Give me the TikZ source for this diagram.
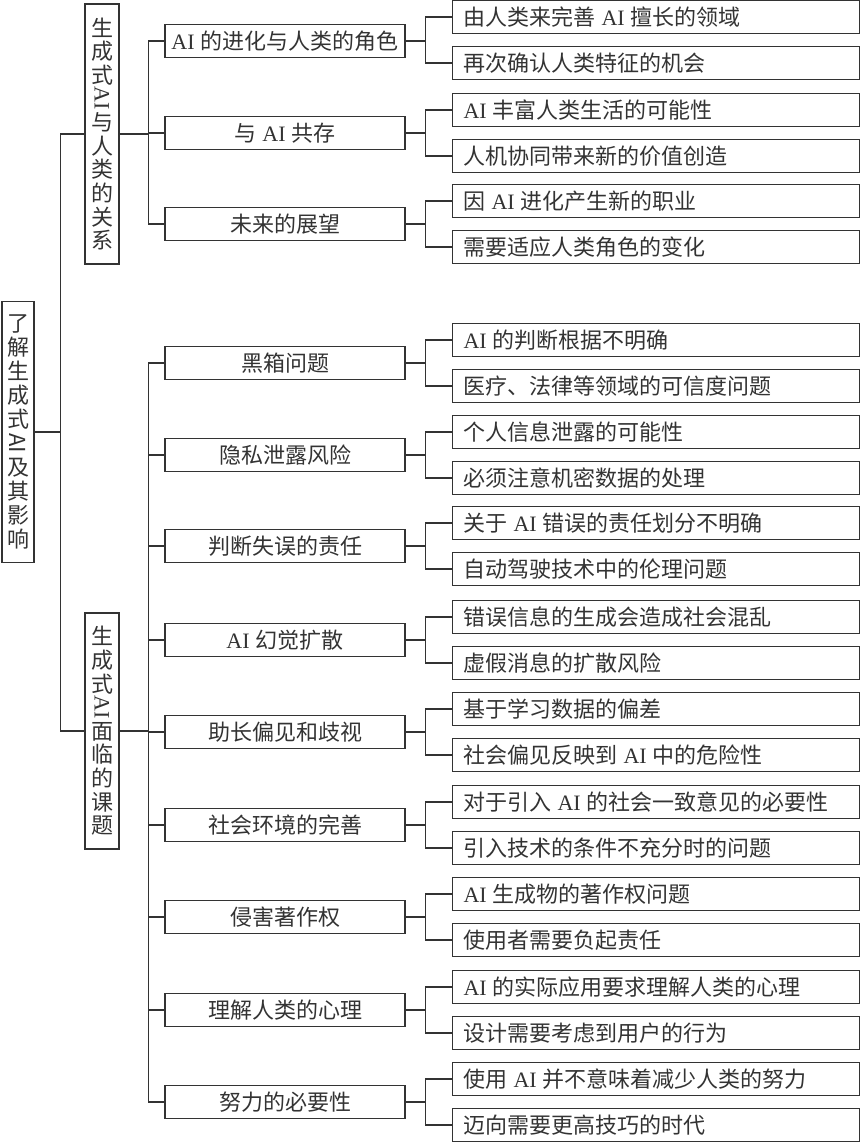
\documentclass[tikz,border=0pt]{standalone}
\usepackage{fontspec}
\usepackage{tikz}
\usepackage{xcolor}
\setmainfont{Noto Sans CJK SC}
\newfontfamily\latinserif{Liberation Serif}
\newcommand{\ai}{{\latinserif AI}}
\newcommand{\sep}{\hspace{6pt}}

\begin{document}
\begin{tikzpicture}[x=1pt, y=-1pt, line width=1.2pt, color=black!80,
			 raiz/.style={draw, minimum width=32pt, minimum height=261pt, inner sep=0pt, align=center, font=\fontsize{22}{24}\selectfont},
			 tema/.style={draw, minimum width=34pt, inner sep=0pt, align=center, font=\fontsize{22}{23.6}\selectfont},
			 lado/.style={rotate=-90, inner sep=0pt, font=\fontsize{22}{24}\selectfont},
			 sub/.style={draw, minimum width=240pt, minimum height=33pt, inner sep=0pt, font=\fontsize{22}{26}\selectfont},
			 hoja/.style={draw, anchor=west, text width=385pt, inner xsep=11pt, inner ysep=0pt, minimum height=33pt, align=left, font=\fontsize{22}{26}\selectfont}
  		]
	\useasboundingbox (0,0) rectangle (861,1143);

	%Nodo raiz y temas
		\node[raiz] (raiz) at (18,432) {了\\解\\生\\成\\式\\\mbox{}\\及\\其\\影\\响};
		\node[tema, minimum height=260pt] (rel) at (102,134) {生\\成\\式\\\mbox{}\\与\\人\\类\\的\\关\\系};
		\node[tema, minimum height=236pt] (ret) at (102,731) {生\\成\\式\\\mbox{}\\面\\临\\的\\课\\题};
	%El AI de lado
		\node[lado] (raizai) at (18,443) {AI};
		\node[lado] (relai) at (102,98) {\ai};
		\node[lado] (retai) at (102,707) {\ai};
	%Subtemas de la relacion
		\node[sub] (r1) at (285,41) {\ai\sep 的进化与人类的角色};
		\node[sub] (r2) at (285,133) {与\sep\ai\sep 共存};
		\node[sub] (r3) at (285,224) {未来的展望};
	%Subtemas de los retos
		\node[sub] (t1) at (285,363) {黑箱问题};
		\node[sub] (t2) at (285,455) {隐私泄露风险};
		\node[sub] (t3) at (285,546) {判断失误的责任};
		\node[sub] (t4) at (285,640) {\ai\sep 幻觉扩散};
		\node[sub] (t5) at (285,732) {助长偏见和歧视};
		\node[sub] (t6) at (285,825) {社会环境的完善};
		\node[sub] (t7) at (285,917) {侵害著作权};
		\node[sub] (t8) at (285,1010) {理解人类的心理};
		\node[sub] (t9) at (285,1102) {努力的必要性};
	%Hojas de la relacion
		\node[hoja] (r1a) at (452,17) {由人类来完善\sep\ai\sep 擅长的领域};
		\node[hoja] (r1b) at (452,63) {再次确认人类特征的机会};
		\node[hoja] (r2a) at (452,110) {\ai\sep 丰富人类生活的可能性};
		\node[hoja] (r2b) at (452,156) {人机协同带来新的价值创造};
		\node[hoja] (r3a) at (452,201) {因\sep\ai\sep 进化产生新的职业};
		\node[hoja] (r3b) at (452,247) {需要适应人类角色的变化};
	%Hojas de los retos
		\node[hoja] (t1a) at (452,340) {\ai\sep 的判断根据不明确};
		\node[hoja] (t1b) at (452,386) {医疗、法律等领域的可信度问题};
		\node[hoja] (t2a) at (452,432) {个人信息泄露的可能性};
		\node[hoja] (t2b) at (452,478) {必须注意机密数据的处理};
		\node[hoja] (t3a) at (452,523) {关于\sep\ai\sep 错误的责任划分不明确};
		\node[hoja] (t3b) at (452,569) {自动驾驶技术中的伦理问题};
		\node[hoja] (t4a) at (452,617) {错误信息的生成会造成社会混乱};
		\node[hoja] (t4b) at (452,663) {虚假消息的扩散风险};
		\node[hoja] (t5a) at (452,709) {基于学习数据的偏差};
		\node[hoja] (t5b) at (452,755) {社会偏见反映到\sep\ai\sep 中的危险性};
		\node[hoja] (t6a) at (452,802) {对于引入\sep\ai\sep 的社会一致意见的必要性};
		\node[hoja] (t6b) at (452,848) {引入技术的条件不充分时的问题};
		\node[hoja] (t7a) at (452,894) {\ai\sep 生成物的著作权问题};
		\node[hoja] (t7b) at (452,940) {使用者需要负起责任};
		\node[hoja] (t8a) at (452,987) {\ai\sep 的实际应用要求理解人类的心理};
		\node[hoja] (t8b) at (452,1033) {设计需要考虑到用户的行为};
		\node[hoja] (t9a) at (452,1079) {使用\sep\ai\sep 并不意味着减少人类的努力};
		\node[hoja] (t9b) at (452,1125) {迈向需要更高技巧的时代};
	%Raiz con los temas
		\draw (raiz.east) -- ++(26,0) |- (rel.west);
		\draw (raiz.east) -- ++(26,0) |- (ret.west);
	%Temas con los subtemas
		\draw (rel.east) -- ++(29,0) |- (r1.west);
		\draw (rel.east) -- ++(29,0) |- (r2.west);
		\draw (rel.east) -- ++(29,0) |- (r3.west);
		\draw (ret.east) -- ++(29,0) |- (t1.west);
		\draw (ret.east) -- ++(29,0) |- (t2.west);
		\draw (ret.east) -- ++(29,0) |- (t3.west);
		\draw (ret.east) -- ++(29,0) |- (t4.west);
		\draw (ret.east) -- ++(29,0) |- (t5.west);
		\draw (ret.east) -- ++(29,0) |- (t6.west);
		\draw (ret.east) -- ++(29,0) |- (t7.west);
		\draw (ret.east) -- ++(29,0) |- (t8.west);
		\draw (ret.east) -- ++(29,0) |- (t9.west);
	%Subtemas con las hojas
		\draw (r1.east) -- ++(20,0) |- (r1a.west);  \draw (r1.east) -- ++(20,0) |- (r1b.west);
		\draw (r2.east) -- ++(20,0) |- (r2a.west);  \draw (r2.east) -- ++(20,0) |- (r2b.west);
		\draw (r3.east) -- ++(20,0) |- (r3a.west);  \draw (r3.east) -- ++(20,0) |- (r3b.west);
		\draw (t1.east) -- ++(20,0) |- (t1a.west);  \draw (t1.east) -- ++(20,0) |- (t1b.west);
		\draw (t2.east) -- ++(20,0) |- (t2a.west);  \draw (t2.east) -- ++(20,0) |- (t2b.west);
		\draw (t3.east) -- ++(20,0) |- (t3a.west);  \draw (t3.east) -- ++(20,0) |- (t3b.west);
		\draw (t4.east) -- ++(20,0) |- (t4a.west);  \draw (t4.east) -- ++(20,0) |- (t4b.west);
		\draw (t5.east) -- ++(20,0) |- (t5a.west);  \draw (t5.east) -- ++(20,0) |- (t5b.west);
		\draw (t6.east) -- ++(20,0) |- (t6a.west);  \draw (t6.east) -- ++(20,0) |- (t6b.west);
		\draw (t7.east) -- ++(20,0) |- (t7a.west);  \draw (t7.east) -- ++(20,0) |- (t7b.west);
		\draw (t8.east) -- ++(20,0) |- (t8a.west);  \draw (t8.east) -- ++(20,0) |- (t8b.west);
		\draw (t9.east) -- ++(20,0) |- (t9a.west);  \draw (t9.east) -- ++(20,0) |- (t9b.west);
	\end{tikzpicture}
\end{document}
